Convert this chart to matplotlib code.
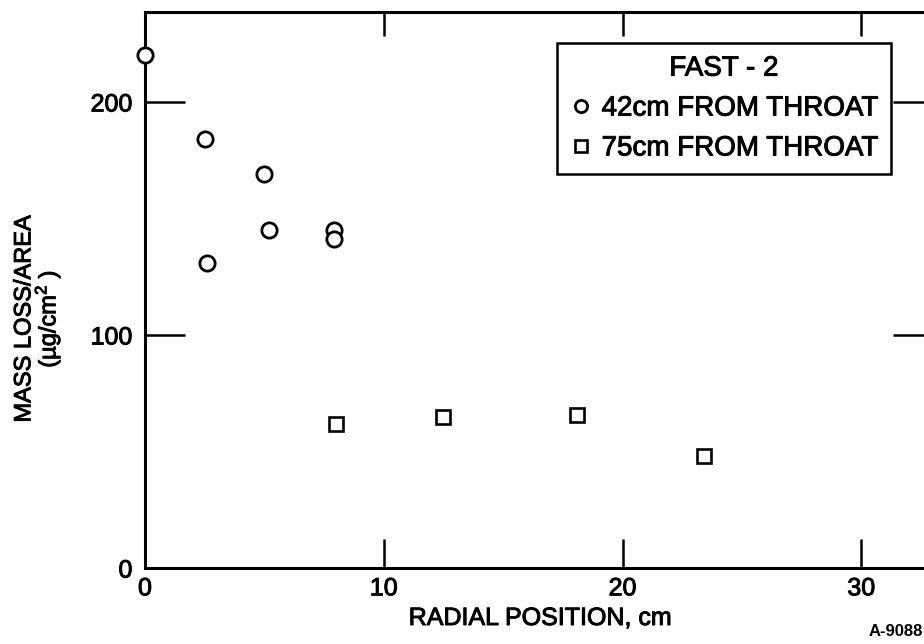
import matplotlib

matplotlib.use("Agg")
import matplotlib.pyplot as plt  # noqa: E402
import matplotlib.patheffects as pe  # noqa: E402

plt.rcParams["font.family"] = ["Liberation Sans", "DejaVu Sans"]
plt.rcParams["mathtext.fontset"] = "custom"
plt.rcParams["mathtext.rm"] = "Liberation Sans"

# FAST-2 mass loss data
x_42cm = [0.0, 2.5, 2.6, 5.0, 5.2, 7.9, 7.9]
y_42cm = [220, 184, 131, 169, 145, 145, 141]
x_75cm = [8.0, 12.5, 18.1, 23.4]
y_75cm = [62, 65, 65.5, 48]

x_ticks = [0, 10, 20, 30]
y_ticks = [0, 100, 200]

# scanned print looks heavier than a plain regular face
heavy = [pe.withStroke(linewidth=0.7, foreground="black")]

fig = plt.figure(figsize=(9.24, 6.44), dpi=100)
# axes runs slightly past the right edge, as in the cropped scan
ax = fig.add_axes([145 / 924, 76 / 644, 788 / 924, 556 / 644])
ax.set_xlim(0, 33)
ax.set_ylim(0, 238.6)

ax.plot(x_42cm, y_42cm, "o", ms=11, mfc="white", mec="black", mew=2.0,
        label="42cm FROM THROAT", clip_on=False, zorder=3)
ax.plot(x_75cm, y_75cm, "s", ms=10.5, mfc="white", mec="black", mew=1.9,
        label="75cm FROM THROAT", zorder=3)

for s in ax.spines.values():
    s.set_linewidth(2.2)

ax.set_xticks(x_ticks)
ax.set_yticks(y_ticks)
ax.tick_params(axis="x", direction="in", length=21, width=1.8, labelsize=18, pad=6)
ax.tick_params(axis="y", direction="in", length=29, width=1.8, labelsize=18, pad=9)
for lab in ax.get_xticklabels() + ax.get_yticklabels():
    lab.set_path_effects(heavy)

top = ax.secondary_xaxis("top")
top.set_xticks(x_ticks[1:])
top.set_xticklabels([])
top.tick_params(direction="in", length=17, width=1.8)
right = ax.secondary_yaxis("right")
right.set_yticks(y_ticks[1:])
right.set_yticklabels([])
right.tick_params(direction="in", length=29, width=1.8)

ax.text((540 - 145) / 788, (568 - 618) / 556, "RADIAL POSITION, cm", transform=ax.transAxes,
        ha="center", va="center", fontsize=18, path_effects=heavy)
fig.text(38 / 924, 0.505, "MASS LOSS/AREA\n(µg/cm$^{2}$ )", rotation=90,
         ha="center", va="center", multialignment="center", fontsize=17, linespacing=0.85,
         path_effects=heavy)
fig.text(923 / 924, 12 / 644, "A-9088", fontsize=12, fontweight="bold", ha="right", va="center")

leg = ax.legend(title="FAST - 2", loc="upper left", bbox_to_anchor=(0.523, 0.944),
                fontsize=20, title_fontsize=20, frameon=True, fancybox=False,
                edgecolor="black", framealpha=1, markerscale=0.8, handlelength=0.8,
                handletextpad=0.35, labelspacing=0.5, borderpad=0.45, borderaxespad=0)
leg.get_frame().set_linewidth(1.8)
for t in leg.get_texts() + [leg.get_title()]:
    t.set_path_effects(heavy)

fig.savefig("out.png", dpi=100)
